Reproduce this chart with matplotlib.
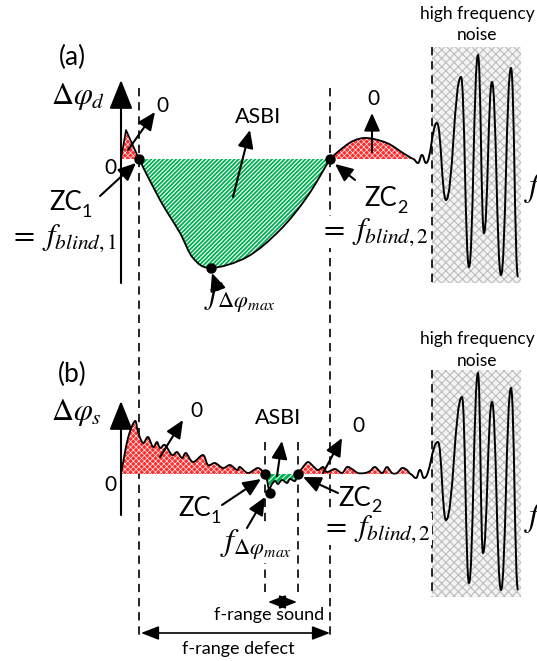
import numpy as np
import matplotlib
matplotlib.use("Agg")
import matplotlib.pyplot as plt
from matplotlib.path import Path
from matplotlib.patches import PathPatch, Rectangle, Polygon

plt.rcParams['font.family'] = ['Lato', 'DejaVu Sans']
plt.rcParams['mathtext.fontset'] = 'stix'
plt.rcParams['hatch.linewidth'] = 0.8

W, H = 537, 661

# ---------------- data (pixel-space schematic) ----------------
# panel (a)
a_axis_y = 159
a_tri_x = [121, 126, 139]
a_tri_y = [159, 130, 159]
a_asbi_x = [139, 160, 180, 193, 211, 247, 280, 307, 330]
a_asbi_y = [159, 200, 233, 258, 268, 257, 230, 197, 159]
a_hump_x = [330, 340, 353, 367, 387, 403, 413]
a_hump_y = [159, 150, 141, 138, 143, 153, 159]
a_noise_x = [413, 418, 422, 426, 437, 446, 461, 469, 478, 484, 492, 501, 511, 518]
a_noise_y = [159, 163, 155, 163, 123, 200, 77, 267, 55, 233, 82, 275, 68, 277]

# panel (b)
b_axis_y = 474
b_red1_x = [121, 128, 135, 138, 143, 148, 153, 157, 160, 165, 172, 177, 182, 186,
            193, 203, 208, 215, 223, 230, 237, 240, 248, 258, 265]
b_red1_y = [474, 438, 421, 432, 443, 437, 447, 442, 448, 445, 455, 452, 458, 453,
            462, 455, 465, 463, 468, 465, 470, 467, 473, 468, 474]
b_green_x = [265, 267, 269, 272, 275, 278, 282, 287, 290, 295, 298]
b_green_y = [474, 480, 489, 484, 481, 484, 480, 483, 479, 481, 474]
b_red2_x = [298, 303, 308, 313, 318, 323, 327, 335, 342, 347, 352, 358, 365, 370,
            375, 382, 387, 392, 397, 402, 407, 410]
b_red2_y = [474, 467, 462, 466, 470, 467, 472, 469, 473, 467, 469, 473, 473, 471,
            467, 473, 467, 473, 473, 468, 470, 474]
b_noise_x = [410, 416, 420, 424, 438, 446, 462, 469, 478, 483, 492, 501, 511, 518]
b_noise_y = [474, 478, 470, 478, 442, 520, 397, 583, 373, 553, 402, 590, 388, 590]

GREEN = '#00B050'
RED = '#FF2E2E'


def catmull(xs, ys):
    pts = np.column_stack([xs, ys]).astype(float)
    n = len(pts)
    verts = [pts[0]]
    codes = [Path.MOVETO]
    for i in range(n - 1):
        p0 = pts[max(i - 1, 0)]
        p1 = pts[i]
        p2 = pts[i + 1]
        p3 = pts[min(i + 2, n - 1)]
        c1 = p1 + (p2 - p0) / 6.0
        c2 = p2 - (p3 - p1) / 6.0
        verts += [c1, c2, p2]
        codes += [Path.CURVE4] * 3
    return verts, codes


def wave(xs, ys):
    verts = [(xs[0], ys[0])]
    codes = [Path.MOVETO]
    for i in range(len(xs) - 1):
        dx = xs[i + 1] - xs[i]
        verts += [(xs[i] + dx * 0.45, ys[i]), (xs[i + 1] - dx * 0.45, ys[i + 1]),
                  (xs[i + 1], ys[i + 1])]
        codes += [Path.CURVE4] * 3
    return verts, codes


def region(ax, xs, ys, face, hatch, hlw, z=3):
    v, c = catmull(xs, ys)
    vf = v + [v[0]]
    cf = c + [Path.CLOSEPOLY]
    with plt.rc_context({'hatch.linewidth': hlw}):
        p = PathPatch(Path(vf, cf), facecolor=face, edgecolor='white',
                      hatch=hatch, lw=0, zorder=z)
    ax.add_patch(p)
    ax.add_patch(PathPatch(Path(v, c), facecolor='none', edgecolor='black',
                           lw=1.3, zorder=z + 1))


fig = plt.figure(figsize=(W / 100, H / 100), dpi=100)
ax = fig.add_axes([0, 0, 1, 1])
ax.set_xlim(0, W)
ax.set_ylim(H, 0)
ax.axis('off')

dash = dict(color='black', lw=1.2, ls=(0, (5, 3.5)), zorder=1)

# noise boxes
for (y0, y1) in [(47, 283), (370, 597)]:
    ax.add_patch(Rectangle((432, y0), 89, y1 - y0, facecolor='#f4f4f4',
                           edgecolor='#bdbdbd', hatch='xxxx', lw=0, zorder=0))
    ax.plot([432, 432], [y0, y1], **dash)

# long dashed verticals
ax.plot([139, 139], [88, 640], **dash)
ax.plot([330, 330], [88, 636], **dash)
ax.plot([265, 265], [442, 594], **dash)
ax.plot([298, 298], [442, 594], **dash)

# axes
arr_ax = dict(arrowstyle='-|>,head_length=1.5,head_width=0.6', lw=1.5,
              color='black', shrinkA=0, shrinkB=0, mutation_scale=12)
for ay, top, bot in [(a_axis_y, 80, 283), (b_axis_y, 401, 515)]:
    ax.annotate('', xy=(121, top), xytext=(121, bot), arrowprops=arr_ax, zorder=6)
    ax.annotate('', xy=(542, ay), xytext=(121, ay), arrowprops=arr_ax, zorder=6)

# panel (a) regions
with plt.rc_context({'hatch.linewidth': 0.45}):
    tri = Polygon(np.column_stack([a_tri_x, a_tri_y]), closed=True,
                  facecolor=RED, edgecolor='white', hatch='xxxxxx', lw=0, zorder=3)
ax.add_patch(tri)
ax.plot(a_tri_x, a_tri_y, color='black', lw=1.2, zorder=4)
region(ax, a_asbi_x, a_asbi_y, GREEN, '////////', 0.8)
region(ax, a_hump_x, a_hump_y, RED, 'xxxxxx', 0.45)
v, c = wave(a_noise_x, a_noise_y)
ax.add_patch(PathPatch(Path(v, c), facecolor='none', edgecolor='black', lw=1.4, zorder=5))

# panel (b) regions
region(ax, b_red1_x, b_red1_y, RED, 'xxxxxx', 0.45)
region(ax, b_green_x, b_green_y, GREEN, '//////', 0.7)
region(ax, b_red2_x, b_red2_y, RED, 'xxxxxx', 0.45)
v, c = wave(b_noise_x, b_noise_y)
ax.add_patch(PathPatch(Path(v, c), facecolor='none', edgecolor='black', lw=1.4, zorder=5))

# dots
for (x, y) in [(139, 159), (330, 159), (211, 268), (265, 474), (298, 474), (270, 493)]:
    ax.plot(x, y, 'o', color='black', ms=6.5, zorder=8)

# annotation arrows
arr = dict(arrowstyle='-|>,head_length=0.9,head_width=0.4', lw=1.5, color='black',
           shrinkA=0, shrinkB=0, mutation_scale=12)
arrows = [((128, 150), (155, 112)), ((233, 197), (250, 130)), ((100, 196), (136, 163)),
          ((218, 290), (212, 273)), ((355, 180), (335, 164)), ((372, 152), (372, 113)),
          ((160, 457), (183, 420)), ((277, 476), (282, 441)), ((222, 505), (261, 479)),
          ((247, 528), (265, 497)), ((338, 493), (303, 477)), ((323, 473), (342, 438))]
for s, e in arrows:
    ax.annotate('', xy=e, xytext=s, arrowprops=arr, zorder=7)

# double arrows for ranges
darr = dict(arrowstyle='<|-|>,head_length=0.9,head_width=0.35', lw=1.2, color='black',
            shrinkA=0, shrinkB=0, mutation_scale=12)
ax.annotate('', xy=(268, 602), xytext=(297, 602), arrowprops=darr, zorder=7)
ax.annotate('', xy=(141, 633), xytext=(330, 633), arrowprops=darr, zorder=7)

# texts
T = dict(ha='center', va='center', color='black')
ax.text(72, 57, '(a)', fontsize=19, zorder=9, **T)
ax.text(72, 374, '(b)', fontsize=19, zorder=9, **T)
ax.text(78, 97, r'$\Delta\varphi_d$', fontsize=22, zorder=9, **T)
ax.text(76, 412, r'$\Delta\varphi_s$', fontsize=22, zorder=9, **T)
for (x, y) in [(110, 168), (110, 485), (162, 106), (373, 99), (196, 411), (358, 426)]:
    ax.text(x, y, '0', fontsize=15, zorder=9, **T)
ax.text(258, 117, 'ASBI', fontsize=15.5, zorder=9, **T)
ax.text(278, 418, 'ASBI', fontsize=15.5, zorder=9, **T)
# ZC labels
for (x, y, sub) in [(66, 203, '1'), (381, 199, '2'), (195, 509, '1'), (355, 498, '2')]:
    ax.text(x, y, 'ZC', fontsize=18.5, zorder=9, **T)
    ax.text(x + 21, y + 9, sub, fontsize=13, zorder=9, **T)
bb = dict(facecolor='white', edgecolor='none', pad=0.5)
ax.text(63, 238, r'$=\ f_{blind,1}$', fontsize=22, zorder=2, **T)
ax.text(374, 232, r'$=\ f_{blind,2}$', fontsize=22, zorder=2, bbox=bb, **T)
ax.text(376, 529, r'$=\ f_{blind,2}$', fontsize=22, zorder=2, bbox=bb, **T)
ax.text(240, 298, r'$f_{\Delta\varphi_{max}}$', fontsize=23, zorder=2, **T)
ax.text(256, 545, r'$f_{\Delta\varphi_{max}}$', fontsize=23, zorder=2, bbox=bb, **T)
ax.text(535, 188, r'$f$', fontsize=24, zorder=9, **T)
ax.text(535, 518, r'$f$', fontsize=24, zorder=9, **T)
ax.text(477, 14, 'high frequency', fontsize=12.5, zorder=9, **T)
ax.text(477, 35, 'noise', fontsize=12.5, zorder=9, **T)
ax.text(477, 339, 'high frequency', fontsize=12.5, zorder=9, **T)
ax.text(477, 361, 'noise', fontsize=12.5, zorder=9, **T)
ax.text(269, 615, 'f-range sound', fontsize=13, zorder=9, **T)
ax.text(238, 649, 'f-range defect', fontsize=13, zorder=9, **T)

fig.savefig('out.png', dpi=100)
